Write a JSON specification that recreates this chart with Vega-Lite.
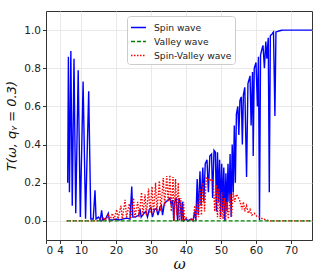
{
  "$schema": "https://vega.github.io/schema/vega-lite/v6.json",
  "width": 266,
  "height": 229,
  "autosize": {"type": "none"},
  "padding": {"left": 46, "top": 11, "right": 20, "bottom": 33},
  "background": "white",
  "config": {
    "font": "DejaVu Sans",
    "view": {"stroke": "#333333", "strokeWidth": 1},
    "axis": {
      "domainColor": "#333333",
      "tickColor": "#333333",
      "tickSize": 3.5,
      "labelFontSize": 10.5,
      "labelColor": "#222222",
      "labelPadding": 2,
      "gridColor": "#e3e3e3",
      "gridWidth": 0.8,
      "titleColor": "#111111",
      "titleFontWeight": "normal"
    },
    "legend": {
      "labelFontSize": 9.2,
      "labelColor": "#222222"
    }
  },
  "data": {"values": [
    {"x": 6.2, "y": 0.20, "s": "Spin wave"},
    {"x": 6.4, "y": 0.86, "s": "Spin wave"},
    {"x": 6.7, "y": 0.15, "s": "Spin wave"},
    {"x": 7.1, "y": 0.89, "s": "Spin wave"},
    {"x": 7.5, "y": 0.08, "s": "Spin wave"},
    {"x": 8.0, "y": 0.85, "s": "Spin wave"},
    {"x": 8.5, "y": 0.04, "s": "Spin wave"},
    {"x": 9.2, "y": 0.79, "s": "Spin wave"},
    {"x": 9.8, "y": 0.02, "s": "Spin wave"},
    {"x": 10.6, "y": 0.73, "s": "Spin wave"},
    {"x": 11.3, "y": 0.012, "s": "Spin wave"},
    {"x": 12.2, "y": 0.68, "s": "Spin wave"},
    {"x": 12.8, "y": 0.01, "s": "Spin wave"},
    {"x": 13.5, "y": 0.01, "s": "Spin wave"},
    {"x": 14.0, "y": 0.16, "s": "Spin wave"},
    {"x": 14.3, "y": 0.01, "s": "Spin wave"},
    {"x": 15.0, "y": 0.02, "s": "Spin wave"},
    {"x": 15.5, "y": 0.005, "s": "Spin wave"},
    {"x": 15.9, "y": 0.055, "s": "Spin wave"},
    {"x": 16.2, "y": 0.005, "s": "Spin wave"},
    {"x": 17.0, "y": 0.01, "s": "Spin wave"},
    {"x": 17.8, "y": 0.04, "s": "Spin wave"},
    {"x": 18.1, "y": 0.005, "s": "Spin wave"},
    {"x": 19.0, "y": 0.005, "s": "Spin wave"},
    {"x": 20.0, "y": 0.01, "s": "Spin wave"},
    {"x": 21.0, "y": 0.005, "s": "Spin wave"},
    {"x": 22.0, "y": 0.01, "s": "Spin wave"},
    {"x": 23.0, "y": 0.015, "s": "Spin wave"},
    {"x": 24.0, "y": 0.01, "s": "Spin wave"},
    {"x": 24.5, "y": 0.18, "s": "Spin wave"},
    {"x": 24.8, "y": 0.02, "s": "Spin wave"},
    {"x": 25.5, "y": 0.02, "s": "Spin wave"},
    {"x": 26.5, "y": 0.03, "s": "Spin wave"},
    {"x": 26.9, "y": 0.06, "s": "Spin wave"},
    {"x": 27.2, "y": 0.02, "s": "Spin wave"},
    {"x": 28.0, "y": 0.04, "s": "Spin wave"},
    {"x": 28.5, "y": 0.05, "s": "Spin wave"},
    {"x": 29.0, "y": 0.02, "s": "Spin wave"},
    {"x": 29.5, "y": 0.06, "s": "Spin wave"},
    {"x": 30.0, "y": 0.07, "s": "Spin wave"},
    {"x": 30.4, "y": 0.02, "s": "Spin wave"},
    {"x": 31.0, "y": 0.06, "s": "Spin wave"},
    {"x": 31.5, "y": 0.065, "s": "Spin wave"},
    {"x": 32.0, "y": 0.03, "s": "Spin wave"},
    {"x": 32.6, "y": 0.075, "s": "Spin wave"},
    {"x": 33.0, "y": 0.08, "s": "Spin wave"},
    {"x": 33.3, "y": 0.03, "s": "Spin wave"},
    {"x": 33.8, "y": 0.09, "s": "Spin wave"},
    {"x": 34.3, "y": 0.1, "s": "Spin wave"},
    {"x": 34.9, "y": 0.11, "s": "Spin wave"},
    {"x": 35.4, "y": 0.12, "s": "Spin wave"},
    {"x": 35.8, "y": 0.08, "s": "Spin wave"},
    {"x": 36.2, "y": 0.11, "s": "Spin wave"},
    {"x": 36.5, "y": 0.0, "s": "Spin wave"},
    {"x": 36.8, "y": 0.1, "s": "Spin wave"},
    {"x": 37.2, "y": 0.12, "s": "Spin wave"},
    {"x": 37.6, "y": 0.0, "s": "Spin wave"},
    {"x": 38.0, "y": 0.12, "s": "Spin wave"},
    {"x": 38.4, "y": 0.09, "s": "Spin wave"},
    {"x": 38.7, "y": 0.0, "s": "Spin wave"},
    {"x": 39.0, "y": 0.1, "s": "Spin wave"},
    {"x": 39.3, "y": 0.0, "s": "Spin wave"},
    {"x": 40.0, "y": 0.01, "s": "Spin wave"},
    {"x": 40.5, "y": 0.0, "s": "Spin wave"},
    {"x": 41.5, "y": 0.01, "s": "Spin wave"},
    {"x": 42.0, "y": 0.0, "s": "Spin wave"},
    {"x": 42.5, "y": 0.05, "s": "Spin wave"},
    {"x": 42.8, "y": 0.0, "s": "Spin wave"},
    {"x": 43.2, "y": 0.22, "s": "Spin wave"},
    {"x": 43.5, "y": 0.03, "s": "Spin wave"},
    {"x": 44.0, "y": 0.26, "s": "Spin wave"},
    {"x": 44.3, "y": 0.08, "s": "Spin wave"},
    {"x": 44.8, "y": 0.28, "s": "Spin wave"},
    {"x": 45.1, "y": 0.1, "s": "Spin wave"},
    {"x": 45.5, "y": 0.3, "s": "Spin wave"},
    {"x": 46.0, "y": 0.32, "s": "Spin wave"},
    {"x": 46.4, "y": 0.15, "s": "Spin wave"},
    {"x": 46.8, "y": 0.34, "s": "Spin wave"},
    {"x": 47.3, "y": 0.35, "s": "Spin wave"},
    {"x": 47.6, "y": 0.12, "s": "Spin wave"},
    {"x": 48.0, "y": 0.37, "s": "Spin wave"},
    {"x": 48.4, "y": 0.36, "s": "Spin wave"},
    {"x": 48.7, "y": 0.05, "s": "Spin wave"},
    {"x": 49.0, "y": 0.36, "s": "Spin wave"},
    {"x": 49.3, "y": 0.1, "s": "Spin wave"},
    {"x": 49.6, "y": 0.32, "s": "Spin wave"},
    {"x": 49.9, "y": 0.02, "s": "Spin wave"},
    {"x": 50.2, "y": 0.3, "s": "Spin wave"},
    {"x": 50.5, "y": 0.05, "s": "Spin wave"},
    {"x": 50.8, "y": 0.28, "s": "Spin wave"},
    {"x": 51.1, "y": 0.0, "s": "Spin wave"},
    {"x": 51.4, "y": 0.25, "s": "Spin wave"},
    {"x": 51.7, "y": 0.05, "s": "Spin wave"},
    {"x": 52.0, "y": 0.3, "s": "Spin wave"},
    {"x": 52.3, "y": 0.1, "s": "Spin wave"},
    {"x": 52.6, "y": 0.35, "s": "Spin wave"},
    {"x": 52.9, "y": 0.02, "s": "Spin wave"},
    {"x": 53.2, "y": 0.4, "s": "Spin wave"},
    {"x": 53.5, "y": 0.15, "s": "Spin wave"},
    {"x": 53.8, "y": 0.5, "s": "Spin wave"},
    {"x": 54.1, "y": 0.2, "s": "Spin wave"},
    {"x": 54.4, "y": 0.56, "s": "Spin wave"},
    {"x": 54.8, "y": 0.6, "s": "Spin wave"},
    {"x": 55.1, "y": 0.45, "s": "Spin wave"},
    {"x": 55.4, "y": 0.63, "s": "Spin wave"},
    {"x": 55.8, "y": 0.65, "s": "Spin wave"},
    {"x": 56.1, "y": 0.4, "s": "Spin wave"},
    {"x": 56.4, "y": 0.66, "s": "Spin wave"},
    {"x": 56.8, "y": 0.7, "s": "Spin wave"},
    {"x": 57.3, "y": 0.23, "s": "Spin wave"},
    {"x": 57.7, "y": 0.72, "s": "Spin wave"},
    {"x": 58.0, "y": 0.74, "s": "Spin wave"},
    {"x": 58.3, "y": 0.76, "s": "Spin wave"},
    {"x": 58.6, "y": 0.5, "s": "Spin wave"},
    {"x": 59.0, "y": 0.78, "s": "Spin wave"},
    {"x": 59.2, "y": 0.34, "s": "Spin wave"},
    {"x": 59.5, "y": 0.8, "s": "Spin wave"},
    {"x": 60.0, "y": 0.83, "s": "Spin wave"},
    {"x": 60.4, "y": 0.6, "s": "Spin wave"},
    {"x": 60.7, "y": 0.86, "s": "Spin wave"},
    {"x": 61.0, "y": 0.005, "s": "Spin wave"},
    {"x": 61.3, "y": 0.87, "s": "Spin wave"},
    {"x": 61.7, "y": 0.9, "s": "Spin wave"},
    {"x": 62.0, "y": 0.92, "s": "Spin wave"},
    {"x": 62.4, "y": 0.8, "s": "Spin wave"},
    {"x": 62.8, "y": 0.94, "s": "Spin wave"},
    {"x": 63.1, "y": 0.85, "s": "Spin wave"},
    {"x": 63.5, "y": 0.96, "s": "Spin wave"},
    {"x": 63.8, "y": 0.15, "s": "Spin wave"},
    {"x": 64.1, "y": 0.97, "s": "Spin wave"},
    {"x": 64.6, "y": 0.98, "s": "Spin wave"},
    {"x": 65.0, "y": 0.99, "s": "Spin wave"},
    {"x": 65.4, "y": 0.55, "s": "Spin wave"},
    {"x": 65.7, "y": 0.99, "s": "Spin wave"},
    {"x": 66.5, "y": 0.995, "s": "Spin wave"},
    {"x": 67.6, "y": 1.0, "s": "Spin wave"},
    {"x": 76.0, "y": 1.0, "s": "Spin wave"},
    {"x": 5.9, "y": 0.0, "s": "Spin-Valley wave"},
    {"x": 14.5, "y": 0.0, "s": "Spin-Valley wave"},
    {"x": 15.4, "y": 0.01, "s": "Spin-Valley wave"},
    {"x": 15.8, "y": 0.0, "s": "Spin-Valley wave"},
    {"x": 16.5, "y": 0.02, "s": "Spin-Valley wave"},
    {"x": 17.0, "y": 0.0, "s": "Spin-Valley wave"},
    {"x": 17.8, "y": 0.03, "s": "Spin-Valley wave"},
    {"x": 18.2, "y": 0.0, "s": "Spin-Valley wave"},
    {"x": 19.0, "y": 0.04, "s": "Spin-Valley wave"},
    {"x": 19.4, "y": 0.005, "s": "Spin-Valley wave"},
    {"x": 20.2, "y": 0.06, "s": "Spin-Valley wave"},
    {"x": 20.6, "y": 0.01, "s": "Spin-Valley wave"},
    {"x": 21.4, "y": 0.08, "s": "Spin-Valley wave"},
    {"x": 21.8, "y": 0.01, "s": "Spin-Valley wave"},
    {"x": 22.6, "y": 0.11, "s": "Spin-Valley wave"},
    {"x": 23.0, "y": 0.02, "s": "Spin-Valley wave"},
    {"x": 23.8, "y": 0.09, "s": "Spin-Valley wave"},
    {"x": 24.2, "y": 0.01, "s": "Spin-Valley wave"},
    {"x": 25.0, "y": 0.12, "s": "Spin-Valley wave"},
    {"x": 25.4, "y": 0.02, "s": "Spin-Valley wave"},
    {"x": 26.2, "y": 0.1, "s": "Spin-Valley wave"},
    {"x": 26.6, "y": 0.02, "s": "Spin-Valley wave"},
    {"x": 27.3, "y": 0.15, "s": "Spin-Valley wave"},
    {"x": 27.7, "y": 0.03, "s": "Spin-Valley wave"},
    {"x": 28.3, "y": 0.14, "s": "Spin-Valley wave"},
    {"x": 28.7, "y": 0.03, "s": "Spin-Valley wave"},
    {"x": 29.3, "y": 0.17, "s": "Spin-Valley wave"},
    {"x": 29.7, "y": 0.04, "s": "Spin-Valley wave"},
    {"x": 30.3, "y": 0.18, "s": "Spin-Valley wave"},
    {"x": 30.7, "y": 0.03, "s": "Spin-Valley wave"},
    {"x": 31.3, "y": 0.2, "s": "Spin-Valley wave"},
    {"x": 31.7, "y": 0.05, "s": "Spin-Valley wave"},
    {"x": 32.4, "y": 0.21, "s": "Spin-Valley wave"},
    {"x": 32.8, "y": 0.05, "s": "Spin-Valley wave"},
    {"x": 33.5, "y": 0.225, "s": "Spin-Valley wave"},
    {"x": 33.9, "y": 0.08, "s": "Spin-Valley wave"},
    {"x": 34.5, "y": 0.235, "s": "Spin-Valley wave"},
    {"x": 34.9, "y": 0.1, "s": "Spin-Valley wave"},
    {"x": 35.4, "y": 0.24, "s": "Spin-Valley wave"},
    {"x": 35.8, "y": 0.05, "s": "Spin-Valley wave"},
    {"x": 36.3, "y": 0.23, "s": "Spin-Valley wave"},
    {"x": 36.6, "y": 0.0, "s": "Spin-Valley wave"},
    {"x": 37.0, "y": 0.22, "s": "Spin-Valley wave"},
    {"x": 37.4, "y": 0.03, "s": "Spin-Valley wave"},
    {"x": 37.8, "y": 0.2, "s": "Spin-Valley wave"},
    {"x": 38.1, "y": 0.0, "s": "Spin-Valley wave"},
    {"x": 38.5, "y": 0.12, "s": "Spin-Valley wave"},
    {"x": 38.9, "y": 0.0, "s": "Spin-Valley wave"},
    {"x": 39.3, "y": 0.1, "s": "Spin-Valley wave"},
    {"x": 39.6, "y": 0.0, "s": "Spin-Valley wave"},
    {"x": 40.0, "y": 0.02, "s": "Spin-Valley wave"},
    {"x": 40.5, "y": 0.0, "s": "Spin-Valley wave"},
    {"x": 41.5, "y": 0.01, "s": "Spin-Valley wave"},
    {"x": 42.0, "y": 0.0, "s": "Spin-Valley wave"},
    {"x": 42.5, "y": 0.08, "s": "Spin-Valley wave"},
    {"x": 42.8, "y": 0.0, "s": "Spin-Valley wave"},
    {"x": 43.3, "y": 0.1, "s": "Spin-Valley wave"},
    {"x": 43.6, "y": 0.02, "s": "Spin-Valley wave"},
    {"x": 44.0, "y": 0.17, "s": "Spin-Valley wave"},
    {"x": 44.4, "y": 0.03, "s": "Spin-Valley wave"},
    {"x": 44.9, "y": 0.2, "s": "Spin-Valley wave"},
    {"x": 45.3, "y": 0.05, "s": "Spin-Valley wave"},
    {"x": 45.8, "y": 0.225, "s": "Spin-Valley wave"},
    {"x": 46.3, "y": 0.22, "s": "Spin-Valley wave"},
    {"x": 46.8, "y": 0.21, "s": "Spin-Valley wave"},
    {"x": 47.3, "y": 0.22, "s": "Spin-Valley wave"},
    {"x": 47.8, "y": 0.2, "s": "Spin-Valley wave"},
    {"x": 48.2, "y": 0.05, "s": "Spin-Valley wave"},
    {"x": 48.6, "y": 0.19, "s": "Spin-Valley wave"},
    {"x": 49.0, "y": 0.02, "s": "Spin-Valley wave"},
    {"x": 49.4, "y": 0.17, "s": "Spin-Valley wave"},
    {"x": 49.8, "y": 0.01, "s": "Spin-Valley wave"},
    {"x": 50.2, "y": 0.15, "s": "Spin-Valley wave"},
    {"x": 50.6, "y": 0.01, "s": "Spin-Valley wave"},
    {"x": 51.0, "y": 0.12, "s": "Spin-Valley wave"},
    {"x": 51.3, "y": 0.0, "s": "Spin-Valley wave"},
    {"x": 51.7, "y": 0.1, "s": "Spin-Valley wave"},
    {"x": 52.1, "y": 0.01, "s": "Spin-Valley wave"},
    {"x": 52.6, "y": 0.14, "s": "Spin-Valley wave"},
    {"x": 53.0, "y": 0.02, "s": "Spin-Valley wave"},
    {"x": 53.5, "y": 0.15, "s": "Spin-Valley wave"},
    {"x": 53.9, "y": 0.1, "s": "Spin-Valley wave"},
    {"x": 54.4, "y": 0.14, "s": "Spin-Valley wave"},
    {"x": 55.0, "y": 0.12, "s": "Spin-Valley wave"},
    {"x": 55.5, "y": 0.1, "s": "Spin-Valley wave"},
    {"x": 56.0, "y": 0.06, "s": "Spin-Valley wave"},
    {"x": 56.4, "y": 0.1, "s": "Spin-Valley wave"},
    {"x": 56.8, "y": 0.05, "s": "Spin-Valley wave"},
    {"x": 57.3, "y": 0.08, "s": "Spin-Valley wave"},
    {"x": 57.8, "y": 0.04, "s": "Spin-Valley wave"},
    {"x": 58.3, "y": 0.06, "s": "Spin-Valley wave"},
    {"x": 58.8, "y": 0.03, "s": "Spin-Valley wave"},
    {"x": 59.5, "y": 0.04, "s": "Spin-Valley wave"},
    {"x": 60.2, "y": 0.025, "s": "Spin-Valley wave"},
    {"x": 61.0, "y": 0.02, "s": "Spin-Valley wave"},
    {"x": 62.0, "y": 0.01, "s": "Spin-Valley wave"},
    {"x": 63.0, "y": 0.005, "s": "Spin-Valley wave"},
    {"x": 64.0, "y": 0.0, "s": "Spin-Valley wave"},
    {"x": 76.0, "y": 0.0, "s": "Spin-Valley wave"},
    {"x": 5.9, "y": 0.0, "s": "Valley wave"},
    {"x": 76.0, "y": 0.0, "s": "Valley wave"}
  ]},
  "mark": {"type": "line", "strokeWidth": 1.4, "clip": true},
  "encoding": {
    "x": {
      "field": "x", "type": "quantitative",
      "scale": {"domain": [0, 76], "nice": false, "zero": false},
      "axis": {"values": [0, 4, 10, 20, 30, 40, 50, 60, 70], "title": "ω",
               "titleFontSize": 15, "titleFontStyle": "italic", "titleFont": "DejaVu Serif", "titlePadding": 0}
    },
    "y": {
      "field": "y", "type": "quantitative",
      "scale": {"domain": [-0.1, 1.1], "nice": false, "zero": false},
      "axis": {"values": [0, 0.2, 0.4, 0.6, 0.8, 1.0], "format": ".1f", "title": "T(ω, qᵧ = 0.3)",
               "titleFontSize": 13, "titleFontStyle": "italic", "titlePadding": 5}
    },
    "color": {
      "field": "s", "type": "nominal", "title": null,
      "scale": {"domain": ["Spin wave", "Valley wave", "Spin-Valley wave"], "range": ["#0000ff", "#008000", "#ff0000"]},
      "legend": {
        "orient": "none", "legendX": 81, "legendY": 5,
        "symbolType": "stroke", "symbolSize": 225, "symbolStrokeWidth": 1.5,
        "fillColor": "white", "strokeColor": "#cccccc", "cornerRadius": 3, "padding": 3,
        "rowPadding": 0, "labelOffset": 7
      }
    },
    "strokeDash": {
      "field": "s", "type": "nominal", "title": null,
      "scale": {"domain": ["Spin wave", "Valley wave", "Spin-Valley wave"], "range": [[1, 0], [4, 2], [1.5, 1.5]]}
    },
    "order": {"field": "x", "type": "quantitative"}
  }
}
